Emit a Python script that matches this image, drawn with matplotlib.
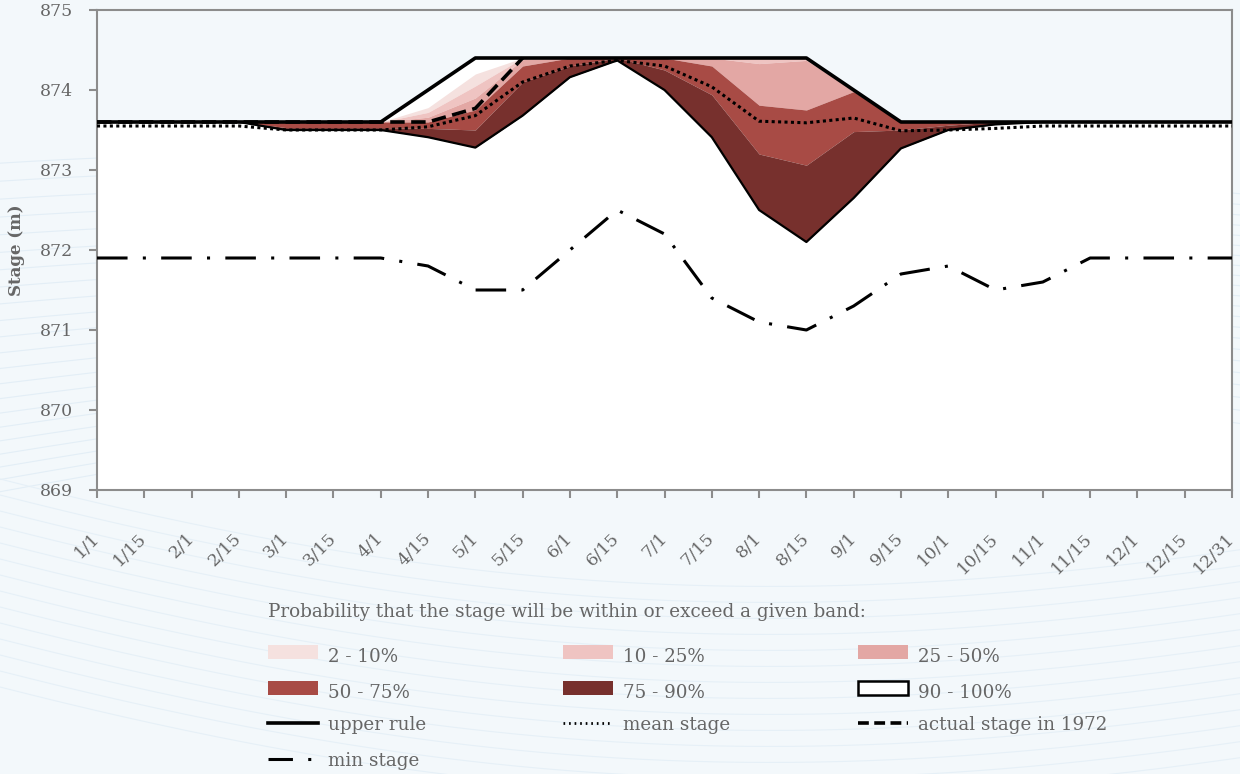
import matplotlib
matplotlib.use('Agg')
import matplotlib.pyplot as plt
import numpy as np
from matplotlib.patches import Rectangle
from matplotlib.lines import Line2D

# ---------------- data ----------------
dates = ['1/1', '1/15', '2/1', '2/15', '3/1', '3/15', '4/1', '4/15', '5/1', '5/15',
         '6/1', '6/15', '7/1', '7/15', '8/1', '8/15', '9/1', '9/15', '10/1', '10/15',
         '11/1', '11/15', '12/1', '12/15', '12/31']

upper_rule = [873.6, 873.6, 873.6, 873.6, 873.6, 873.6, 873.6, 874.0, 874.4, 874.4,
              874.4, 874.4, 874.4, 874.4, 874.4, 874.4, 874.0, 873.6, 873.6, 873.6,
              873.6, 873.6, 873.6, 873.6, 873.6]
top_2_10 = [873.6, 873.6, 873.6, 873.6, 873.6, 873.6, 873.6, 873.78, 874.2, 874.4,
            874.4, 874.4, 874.4, 874.4, 874.4, 874.4, 874.0, 873.6, 873.6, 873.6,
            873.6, 873.6, 873.6, 873.6, 873.6]
top_10_25 = [873.6, 873.6, 873.6, 873.6, 873.6, 873.6, 873.6, 873.72, 874.05, 874.4,
             874.4, 874.4, 874.4, 874.4, 874.4, 874.4, 874.0, 873.6, 873.6, 873.6,
             873.6, 873.6, 873.6, 873.6, 873.6]
top_25_50 = [873.6, 873.6, 873.6, 873.6, 873.6, 873.6, 873.6, 873.66, 873.9, 874.38,
             874.4, 874.4, 874.4, 874.4, 874.33, 874.37, 874.0, 873.6, 873.6, 873.6,
             873.6, 873.6, 873.6, 873.6, 873.6]
top_50_75 = [873.6, 873.6, 873.6, 873.6, 873.6, 873.6, 873.6, 873.6, 873.75, 874.3,
             874.4, 874.4, 874.4, 874.3, 873.81, 873.75, 873.98, 873.6, 873.6, 873.6,
             873.6, 873.6, 873.6, 873.6, 873.6]
top_75_90 = [873.6, 873.6, 873.6, 873.6, 873.53, 873.53, 873.53, 873.52, 873.5, 874.1,
             874.3, 874.4, 874.25, 873.94, 873.2, 873.06, 873.48, 873.5, 873.56, 873.6,
             873.6, 873.6, 873.6, 873.6, 873.6]
bottom_75_90 = [873.6, 873.6, 873.6, 873.6, 873.5, 873.5, 873.5, 873.41, 873.28, 873.68,
                874.16, 874.37, 874.0, 873.41, 872.5, 872.1, 872.65, 873.27, 873.5, 873.57,
                873.6, 873.6, 873.6, 873.6, 873.6]
mean_stage = [873.55, 873.55, 873.55, 873.55, 873.5, 873.5, 873.5, 873.54, 873.68, 874.1,
              874.3, 874.37, 874.3, 874.04, 873.61, 873.59, 873.65, 873.49, 873.5, 873.52,
              873.55, 873.55, 873.55, 873.55, 873.55]
actual_1972 = [873.6, 873.6, 873.6, 873.6, 873.6, 873.6, 873.6, 873.6, 873.77, 874.4]
min_stage = [871.9, 871.9, 871.9, 871.9, 871.9, 871.9, 871.9, 871.8, 871.5, 871.5,
             872.0, 872.5, 872.2, 871.4, 871.1, 871.0, 871.3, 871.7, 871.8, 871.5,
             871.6, 871.9, 871.9, 871.9, 871.9]
y_ticks = [869, 870, 871, 872, 873, 874, 875]

band_labels = ['2 - 10%', '10 - 25%', '25 - 50%', '50 - 75%', '75 - 90%', '90 - 100%']
band_colors = ['#f5e1df', '#efc4c2', '#e3a7a4', '#a84b45', '#77302d', '#ffffff']

# ---------------- figure ----------------
W, H = 1240, 774
fig = plt.figure(figsize=(W / 100, H / 100), dpi=100, facecolor='#f3f8fb')
plt.rcParams['font.family'] = ['DejaVu Serif']

# faint decorative background swooshes
bg = fig.add_axes([0, 0, 1, 1], zorder=-10)
bg.set_xlim(0, W); bg.set_ylim(H, 0); bg.axis('off')
t = np.linspace(0, W, 200)
for k in range(22):
    yy = 120 + k * 14 + 0.00012 * (t - 600) ** 2 + 40 * np.sin(t / 500 + k * 0.1)
    bg.plot(t, yy, color='#e3eef6', lw=0.8, zorder=-10)
for k in range(14):
    yy = 560 + k * 16 - 0.00010 * (t - 900) ** 2 + 30 * np.sin(t / 400)
    bg.plot(t, yy, color='#e6f0f7', lw=0.8, zorder=-10)

ax = fig.add_axes([97 / W, 1 - 490 / H, (1232 - 97) / W, 480 / H])
ax.set_facecolor('none')
x = np.arange(len(dates))

ax.fill_between(x, 869, upper_rule, color='white', lw=0, zorder=1)
bounds = [top_2_10, top_10_25, top_25_50, top_50_75, top_75_90, bottom_75_90]
for i in range(5):
    ax.fill_between(x, bounds[i + 1], bounds[i], color=band_colors[i], lw=0, zorder=2)

ax.plot(x, bottom_75_90, color='black', lw=1.6, zorder=3)
ax.plot(x, upper_rule, color='black', lw=2.6, zorder=4)
ax.plot(x, mean_stage, color='black', lw=2.2, linestyle=(0, (1, 1.1)),
        dash_capstyle='butt', zorder=5)
ax.plot(x[:len(actual_1972)], actual_1972, color='black', lw=2.6,
        linestyle=(0, (4, 1.8)), zorder=5)
ax.plot(x, min_stage, color='black', lw=2.2, linestyle=(0, (10, 5, 1, 5)), zorder=5)

ax.set_xlim(0, len(dates) - 1)
ax.set_ylim(869, 875)
ax.set_yticks(y_ticks)
ax.set_yticklabels([str(v) for v in y_ticks])
ax.set_xticks(x)
ax.set_xticklabels(dates, rotation=45, ha='right', va='center', rotation_mode='anchor')

for s in ax.spines.values():
    s.set_color('#8c8c8c')
    s.set_linewidth(1.5)
ax.tick_params(axis='both', colors='#8c8c8c', length=6, width=1.5,
               labelcolor='#666666', labelsize=12.5)
ax.tick_params(axis='y', pad=11)
ax.tick_params(axis='x', pad=27)
ax.set_ylabel('Stage (m)', fontsize=12, fontweight='bold', color='#666666', labelpad=11)

# ---------------- legend ----------------
lg = fig.add_axes([0, 0, 1, 1], zorder=5)
lg.set_xlim(0, W); lg.set_ylim(H, 0); lg.axis('off')
lg.text(268, 612, 'Probability that the stage will be within or exceed a given band:',
        fontsize=13.2, color='#666666', va='center', ha='left')
cols = [268, 563, 858]
rows = [652, 688, 723, 759]
for i, (lab, col) in enumerate(zip(band_labels, band_colors)):
    r, c = divmod(i, 3)
    px, py = cols[c], rows[r]
    lg.add_patch(Rectangle((px, py - 7), 50, 14, facecolor=col,
                           edgecolor='black' if col == '#ffffff' else col,
                           lw=1.8 if col == '#ffffff' else 0))
    lg.text(px + 60, py + 5, lab, fontsize=13.2, color='#666666', va='center', ha='left')

line_items = [('upper rule', dict(lw=2.6, linestyle='-')),
              ('mean stage', dict(lw=2.0, linestyle=(0, (0.6, 1.4)))),
              ('actual stage in 1972', dict(lw=2.6, linestyle=(0, (3, 1.5)))),
              ('min stage', dict(lw=2.2, linestyle=(0, (8, 5, 1, 5))))]
for j, (lab, kw) in enumerate(line_items):
    r, c = divmod(j, 3)
    px, py = cols[c], rows[2 + r]
    lg.add_line(Line2D([px, px + 50], [py, py], color='black', **kw))
    lg.text(px + 60, py + 2, lab, fontsize=13.2, color='#666666', va='center', ha='left')

fig.savefig('out.png', dpi=100, facecolor=fig.get_facecolor())
